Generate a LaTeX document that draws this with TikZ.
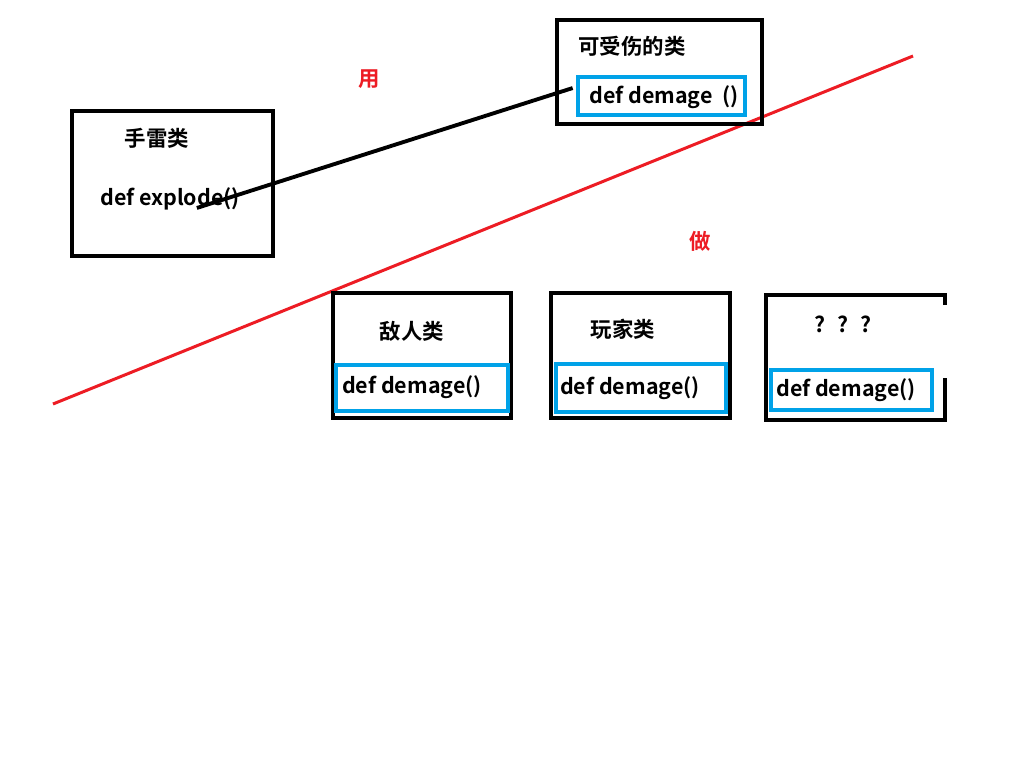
\documentclass[tikz,border=0pt]{standalone}
\usepackage{fontspec}
\setmainfont{Noto Sans CJK SC Bold}
\definecolor{umlblue}{HTML}{00A2E8}
\definecolor{umlred}{HTML}{ED1C24}
\tikzset{
  classbox/.style={draw=black, line width=2.3pt},
  methodbox/.style={draw=umlblue, line width=2.3pt},
  lbl/.style={inner sep=0pt, font=\fontsize{12.2pt}{14pt}\selectfont},
  redword/.style={inner sep=0pt, text=umlred, font=\fontsize{12.2pt}{14pt}\selectfont},
}
\begin{document}
\begin{tikzpicture}[x=0.02cm, y=-0.02cm]
  \path[fill=white] (0,0) rectangle (1024,768);
  \useasboundingbox (0,0) rectangle (1024,768);
  % separator
  \coordinate (sepA) at (53,404);
  \coordinate (sepB) at (913,56);
  \draw[umlred, line width=1.7pt] (sepA) -- (sepB);
  % grenade class
  \draw[classbox] (72,111) rectangle (273,256);
  \node[lbl] (grenade) at (157,138) {手雷类};
  \node[lbl] (explode) at (170,199) {def explode()};
  % damageable class
  \draw[classbox] (557,20) rectangle (762,124);
  \draw[methodbox] (578,77) rectangle (745,115);
  \node[lbl] (damageable) at (632,46) {可受伤的类};
  \node[lbl] (dmgbase) at (664,97) {def demage\ \ ()};
  % enemy
  \draw[classbox] (333,293) rectangle (511,418);
  \draw[methodbox] (336,365) rectangle (508,411);
  \node[lbl] (enemy) at (412,331) {敌人类};
  \node[lbl] (dmgenemy) at (412,387) {def demage()};
  % player
  \draw[classbox] (551,293) rectangle (730,418);
  \draw[methodbox] (556,364) rectangle (726,412);
  \node[lbl] (player) at (623,329) {玩家类};
  \node[lbl] (dmgplayer) at (630,388) {def demage()};
  % unknown
  \draw[classbox] (945,305) -- (945,295) -- (766,295) -- (766,420) -- (945,420) -- (945,378);
  \draw[methodbox] (771,370) rectangle (932,410);
  \node[lbl] (unknown) at (843,324) {?\hspace{0.55em}?\hspace{0.55em}?};
  \node[lbl] (dmgunknown) at (846,390) {def demage()};
  % uses
  \coordinate (useA) at ([xshift=15.3pt, yshift=-5.1pt]explode.center);
  \coordinate (useB) at ([xshift=-52pt, yshift=5.1pt]dmgbase.center);
  \draw[black, line width=2.2pt] (useA) -- (useB);
  \node[redword] (use) at (369,79) {用};
  \node[redword] (do) at (700,241) {做};
\end{tikzpicture}
\end{document}
